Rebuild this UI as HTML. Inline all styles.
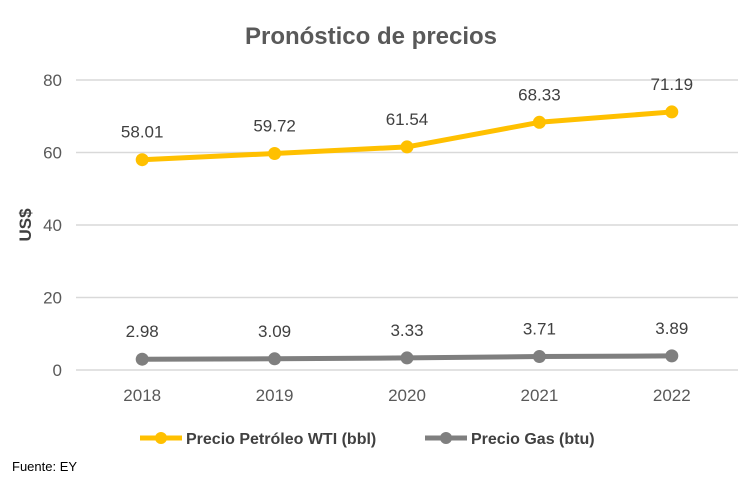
<!DOCTYPE html>
<html><head><meta charset="utf-8"><style>
body{margin:0;background:#fff;}
svg text{font-family:"Liberation Sans",sans-serif;}
</style></head><body>
<svg width="742" height="490" viewBox="0 0 742 490">
<text x="371" y="44" text-anchor="middle" font-size="24" font-weight="bold" fill="#595959">Pronóstico de precios</text>
<text transform="translate(31,225) rotate(-90)" text-anchor="middle" font-size="17" font-weight="bold" fill="#404040">US$</text>
<g id="grid"></g><g id="series"></g>
<g>
<g>
<line x1="140" y1="438" x2="182" y2="438" stroke="#FFC000" stroke-width="5"/>
<circle cx="161" cy="438" r="6" fill="#FFC000"/>
<text x="186" y="444" font-size="16" font-weight="bold" fill="#404040">Precio Petróleo WTI (bbl)</text></g>
<g>
<line x1="425" y1="438" x2="467" y2="438" stroke="#7F7F7F" stroke-width="5"/>
<circle cx="446" cy="438" r="6" fill="#7F7F7F"/>
<text x="471" y="444" font-size="16" font-weight="bold" fill="#404040">Precio Gas (btu)</text></g>
</g>
<text x="12" y="471" font-size="13" fill="#000">Fuente: EY</text>
</svg>
<script>
const categories=["2018","2019","2020","2021","2022"];
const oilValues=[58.01,59.72,61.54,68.33,71.19];
const gasValues=[2.98,3.09,3.33,3.71,3.89];
const yTicks=[0,20,40,60,80];
const NS="http://www.w3.org/2000/svg";
const L=76,R=738,T=80,B=370,yMax=80;
const xs=i=>L+(i+0.5)*(R-L)/categories.length;
const ys=v=>B-(v/yMax)*(B-T);
function mk(t,a,p){const e=document.createElementNS(NS,t);for(const k in a)e.setAttribute(k,a[k]);p.appendChild(e);return e;}
const grid=document.getElementById('grid');
yTicks.forEach(v=>{
 const l=mk('line',{x1:L,x2:R,y1:ys(v),y2:ys(v),stroke:'#D9D9D9','stroke-width':1.5},grid);
 
 
 const t=mk('text',{x:62,y:ys(v)+6,'text-anchor':'end','font-size':17,fill:'#595959'},grid);
 t.textContent=v;
 
 
});
categories.forEach((c,i)=>{
 const t=mk('text',{x:xs(i),y:401,'text-anchor':'middle','font-size':17,fill:'#595959'},grid);
 t.textContent=c;
 
 
});
const sg=document.getElementById('series');
function series(vals,color,name){
 const pl=mk('polyline',{points:vals.map((v,i)=>xs(i)+','+ys(v)).join(' '),fill:'none',stroke:color,'stroke-width':5,'stroke-linejoin':'round'},sg);
 
 
 vals.forEach((v,i)=>{
  const c=mk('circle',{cx:xs(i),cy:ys(v),r:6.5,fill:color},sg);
  
  
  const t=mk('text',{x:xs(i),y:ys(v)-22,'text-anchor':'middle','font-size':17,fill:'#404040'},sg);
  t.textContent=v.toFixed(2);
  
  
 });
}
series(oilValues,'#FFC000','oil');
series(gasValues,'#7F7F7F','gas');
</script>
</body></html>
